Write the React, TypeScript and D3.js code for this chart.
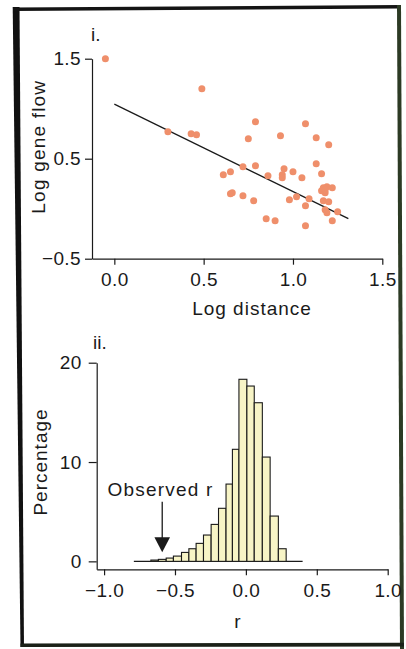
import React, { useEffect, useRef } from "react";
import * as d3 from "d3";

// ---------- data ----------
const logDistance = [
  -0.05, 0.49, 0.30, 0.43, 0.46, 0.79, 0.75, 0.93, 1.07, 1.13, 1.20, 0.72, 0.79, 0.61, 0.65,
  0.86, 0.95, 0.94, 0.94, 1.00, 1.05, 1.13, 1.16, 0.65, 0.66, 0.72, 0.78, 0.98, 1.02, 1.09,
  1.07, 1.16, 1.17, 1.18, 1.19, 1.22, 1.17, 1.20, 1.18, 1.19, 1.25, 1.22, 0.85, 0.90, 1.07, 1.18,
];
const logGeneFlow = [
  1.50, 1.20, 0.77, 0.75, 0.74, 0.87, 0.70, 0.73, 0.85, 0.71, 0.64, 0.42, 0.43, 0.34, 0.37,
  0.33, 0.40, 0.34, 0.31, 0.37, 0.31, 0.45, 0.35, 0.15, 0.16, 0.13, 0.08, 0.09, 0.12, 0.10,
  0.03, 0.18, 0.21, 0.16, 0.22, 0.21, 0.08, 0.07, -0.01, -0.04, -0.03, -0.12, -0.10, -0.12, -0.17, 0.19,
];
const fitX = [0, 1.31];
const fitY = [1.045, -0.1];

const binEdges = [
  -0.670, -0.617, -0.562, -0.511, -0.454, -0.402, -0.351, -0.299, -0.245, -0.193,
  -0.140, -0.095, -0.049, 0.007, 0.059, 0.116, 0.171, 0.229, 0.284,
];
const percentages = [
  0.13, 0.2, 0.33, 0.53, 0.9, 1.27, 1.81, 2.65, 3.72, 5.34, 7.78, 11.28, 18.33, 17.65, 15.97,
  10.5, 4.56, 1.27,
];
const baselineRange = [-0.79, 0.4];
const observedR = -0.59;

const scatterXTicks = [0, 0.5, 1.0, 1.5];
const scatterYTicks = [-0.5, 0.5, 1.5];
const histXTicks = [-1.0, -0.5, 0.0, 0.5, 1.0];
const histYTicks = [0, 10, 20];

// ---------- layout ----------
const W = 406;
const H = 649;
const FONT = "'Liberation Sans', Arial, Helvetica, sans-serif";
const INK = "#1a1a1a";

const sx = d3.scaleLinear().domain([-0.125, 1.5]).range([92, 382.3]);
const sy = d3.scaleLinear().domain([-0.5, 1.5]).range([258.7, 58.7]);
const hx = d3.scaleLinear().domain([-1.052, 1.0]).range([96.7, 387.7]);
const hy = d3.scaleLinear().domain([-0.8, 20]).range([569.3, 362.7]);

export default function App() {
  const a1x = useRef<SVGGElement>(null);
  const a1y = useRef<SVGGElement>(null);
  const a2x = useRef<SVGGElement>(null);
  const a2y = useRef<SVGGElement>(null);

  useEffect(() => {
    const style = (g: any) => {
      g.attr("font-size", null).attr("font-family", null);
      g.select(".domain").attr("stroke", INK).attr("stroke-width", 1.2);
      g.selectAll(".tick line").attr("stroke", INK).attr("stroke-width", 1.2);
      g.selectAll(".tick text")
        .attr("fill", INK)
        .attr("font-size", 19)
        .attr("font-family", FONT)
        .attr("letter-spacing", 0.4);
    };
    const f1 = d3.format(".1f");
    d3.select(a1x.current!)
      .call(d3.axisBottom(sx).tickValues(scatterXTicks).tickFormat(f1 as any).tickSize(6).tickSizeOuter(0).tickPadding(8))
      .call(style);
    d3.select(a1y.current!)
      .call(d3.axisLeft(sy).tickValues(scatterYTicks).tickFormat(f1 as any).tickSize(7).tickSizeOuter(0).tickPadding(4))
      .call(style);
    d3.select(a2x.current!)
      .call(d3.axisBottom(hx).tickValues(histXTicks).tickFormat(f1 as any).tickSize(6).tickSizeOuter(0).tickPadding(8))
      .call(style);
    d3.select(a2y.current!)
      .call(d3.axisLeft(hy).tickValues(histYTicks).tickFormat(d3.format("d") as any).tickSize(8).tickSizeOuter(0).tickPadding(7))
      .call(style);
  }, []);

  const fitLine = d3
    .line<number>()
    .x((d) => sx(fitX[d]))
    .y((d) => sy(fitY[d]));

  const arrowX = hx(observedR);

  return (
    <div style={{ position: "absolute", left: 0, top: 0, width: W, height: H, background: "#fff" }}>
      <svg width={W} height={H} style={{ display: "block" }}>
        <rect x={0} y={0} width={W} height={H} fill="#fff" />

        {/* frame */}
        <polygon points="12.7,7 19.5,7 24,647 20.5,647" fill="#111" />
        <polygon points="13,7.5 400,5 400,8.5 13,11" fill="#141414" />
        <polygon points="397,5 401,5 404,649 400,649" fill="#2c3a24" />
        <polygon points="20.5,643.5 404,642.8 404,646.5 20.5,647" fill="#1b2118" />

        {/* ---------- panel i ---------- */}
        <text x={91} y={40.5} fontFamily={FONT} fontSize={19} fill={INK}>i.</text>
        <g ref={a1x} transform={`translate(0,${sy(-0.5)})`} />
        <g ref={a1y} transform={`translate(${sx(-0.125)},0)`} />
        <path d={fitLine([0, 1]) || ""} fill="none" stroke={INK} strokeWidth={1.3} />
        {logDistance.map((x, i) => (
          <circle key={i} cx={sx(x)} cy={sy(logGeneFlow[i])} r={3.5} fill="#ef8f6b" />
        ))}
        <text x={252} y={315} textAnchor="middle" fontFamily={FONT} fontSize={19} letterSpacing={1} fill={INK}>
          Log distance
        </text>
        <text
          transform={`translate(45,${(sy(1.5) + sy(-0.5)) / 2 - 12}) rotate(-90)`}
          textAnchor="middle"
          fontFamily={FONT}
          fontSize={19}
          letterSpacing={1.2}
          fill={INK}
        >
          Log gene flow
        </text>

        {/* ---------- panel ii ---------- */}
        <text x={93} y={349.3} fontFamily={FONT} fontSize={19} fill={INK}>ii.</text>
        <g ref={a2x} transform={`translate(0,${hy(-0.8)})`} />
        <g ref={a2y} transform={`translate(${hx(-1.052)},0)`} />
        <line
          x1={hx(baselineRange[0])}
          x2={hx(baselineRange[1])}
          y1={hy(0)}
          y2={hy(0)}
          stroke={INK}
          strokeWidth={1.2}
        />
        {percentages.map((p, i) => (
          <rect
            key={i}
            x={hx(binEdges[i])}
            y={hy(p)}
            width={hx(binEdges[i + 1]) - hx(binEdges[i])}
            height={hy(0) - hy(p)}
            fill="#f7f4c6"
            stroke={INK}
            strokeWidth={1.1}
          />
        ))}
        <text x={107.5} y={496} fontFamily={FONT} fontSize={19} letterSpacing={1.2} fill={INK}>
          Observed r
        </text>
        <line x1={arrowX} x2={arrowX} y1={501.7} y2={538} stroke={INK} strokeWidth={1.3} />
        <polygon
          points={`${arrowX - 7.8},537.3 ${arrowX + 7.8},537.3 ${arrowX},552.3`}
          fill={INK}
        />
        <text x={hx(-0.06)} y={628} textAnchor="middle" fontFamily={FONT} fontSize={19} fill={INK}>
          r
        </text>
        <text
          transform={`translate(47,${(hy(20) + hy(-0.8)) / 2 - 4}) rotate(-90)`}
          textAnchor="middle"
          fontFamily={FONT}
          fontSize={19}
          letterSpacing={1}
          fill={INK}
        >
          Percentage
        </text>
      </svg>
    </div>
  );
}
